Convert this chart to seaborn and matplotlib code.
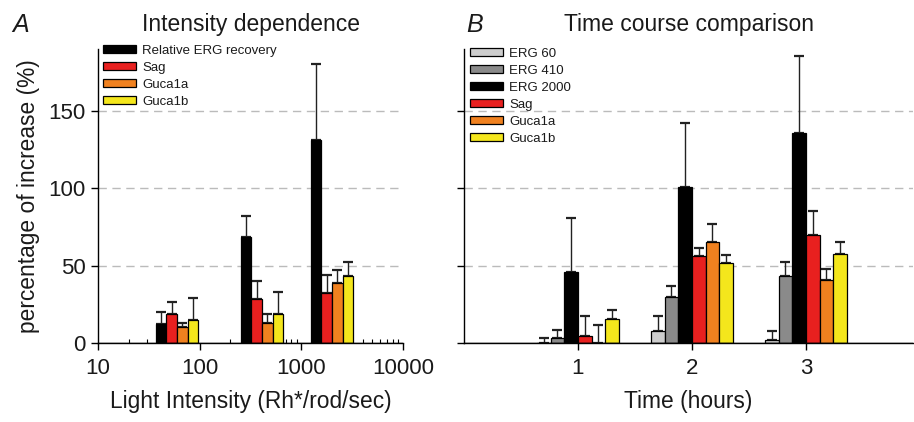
import numpy as np
import pandas as pd
import matplotlib
matplotlib.use("Agg")
import matplotlib.pyplot as plt
from matplotlib.patches import Patch
from matplotlib.ticker import LogLocator, NullFormatter, FixedLocator
import seaborn as sns

# ---- data: panel A (intensity dependence) ----
intensities = [60, 410, 2000]
series_a = ["Relative ERG recovery", "Sag", "Guca1a", "Guca1b"]
vals_a = {
    "Relative ERG recovery": [12, 68.5, 131],
    "Sag": [19, 28.5, 32.5],
    "Guca1a": [10.5, 13, 39],
    "Guca1b": [15, 18.5, 43],
}
errs_a = {
    "Relative ERG recovery": [8, 13.5, 49],
    "Sag": [7.5, 11.5, 11.5],
    "Guca1a": [2.5, 6, 8.5],
    "Guca1b": [14, 14.5, 9.5],
}

# ---- data: panel B (time course) ----
hours = ["1", "2", "3"]
series_b = ["ERG 60", "ERG 410", "ERG 2000", "Sag", "Guca1a", "Guca1b"]
vals_b = {
    "ERG 60": [-1.5, 7.5, 2.2],
    "ERG 410": [3.2, 29.7, 43],
    "ERG 2000": [46, 101, 136],
    "Sag": [4.3, 56.5, 69.5],
    "Guca1a": [0, 65.5, 40.5],
    "Guca1b": [15.5, 51.5, 57.8],
}
errs_b = {
    "ERG 60": [3, 10, 5.3],
    "ERG 410": [5, 7, 9.3],
    "ERG 2000": [35, 41.5, 49.5],
    "Sag": [13, 5, 16],
    "Guca1a": [11.4, 11.5, 7.3],
    "Guca1b": [6, 5.5, 7.5],
}

colors = {
    "Relative ERG recovery": "#000000",
    "ERG 60": "#cdcdcd",
    "ERG 410": "#8a8a8a",
    "ERG 2000": "#000000",
    "Sag": "#e8201f",
    "Guca1a": "#f0811f",
    "Guca1b": "#f4e61c",
}

df_a = pd.DataFrame([(x, s, vals_a[s][i], errs_a[s][i])
                     for s in series_a for i, x in enumerate(intensities)],
                    columns=["intensity", "series", "value", "err"])
df_b = pd.DataFrame([(h, s, vals_b[s][i], errs_b[s][i])
                     for s in series_b for i, h in enumerate(hours)],
                    columns=["hour", "series", "value", "err"])

sns.set_theme(style="ticks")
plt.rcParams["font.family"] = ["Liberation Sans", "DejaVu Sans"]
plt.rcParams["text.color"] = "#1a1a1a"
plt.rcParams["axes.labelcolor"] = "#1a1a1a"
plt.rcParams["xtick.labelcolor"] = "#1a1a1a"
plt.rcParams["ytick.labelcolor"] = "#1a1a1a"

fig = plt.figure(figsize=(9.14, 4.22), dpi=100)
axA = fig.add_axes([98 / 914, 1 - 343 / 422, 305 / 914, 294 / 422])
axB = fig.add_axes([464 / 914, 1 - 343 / 422, 449 / 914, 294 / 422])

err_kw = dict(fmt="none", ecolor="#222222", elinewidth=1.0, capsize=3.5, capthick=1.6, zorder=1)


def add_errors(ax, containers, series, errs, log=False):
    for s, cont in zip(series, containers):
        xs, ys = [], []
        for bar in cont:
            x0, w = bar.get_x(), bar.get_width()
            xs.append(np.sqrt(x0 * (x0 + w)) if log else x0 + w / 2)
            ys.append(max(bar.get_height(), 0))
        e = errs[s]
        ax.errorbar(xs, ys, yerr=[np.zeros(len(e)), e], **err_kw)


# ---- panel A ----
sns.barplot(data=df_a, x="intensity", y="value", hue="series", hue_order=series_a,
            palette=colors, saturation=1, native_scale=True, log_scale=(10, False),
            width=0.61, errorbar=None, edgecolor="black", linewidth=0.9,
            legend=False, ax=axA, zorder=2)
add_errors(axA, axA.containers, series_a, errs_a, log=True)
axA.set_xscale("log")
axA.set_xlim(10, 10000)
axA.xaxis.set_major_locator(FixedLocator([10, 100, 1000, 10000]))
axA.set_xticklabels(["10", "100", "1000", "10000"])
axA.xaxis.set_minor_locator(LogLocator(base=10, subs=np.arange(2, 10)))
axA.xaxis.set_minor_formatter(NullFormatter())
axA.set_xlabel("Light Intensity (Rh*/rod/sec)", fontsize=16.4, labelpad=8)
axA.set_ylabel("percentage of increase (%)", fontsize=16.4, labelpad=6)
axA.set_title("Intensity dependence", fontsize=16.5, pad=13)

# ---- panel B ----
sns.barplot(data=df_b, x="hour", y="value", hue="series", hue_order=series_b,
            palette=colors, saturation=1, width=0.72, errorbar=None,
            edgecolor="black", linewidth=0.9, legend=False, ax=axB, zorder=2)
add_errors(axB, axB.containers, series_b, errs_b)
axB.set_xlim(-1, 2.94)
axB.set_xlabel("Time (hours)", fontsize=16.4, labelpad=8)
axB.set_ylabel("")
axB.set_title("Time course comparison", fontsize=16.5, pad=13)

for ax in (axA, axB):
    ax.set_ylim(0, 190)
    ax.set_yticks([0, 50, 100, 150])
    ax.set_axisbelow(True)
    for y in (50, 100, 150):
        ax.axhline(y, color="#bbbbbb", lw=1.0, ls=(0, (6, 4)), zorder=0)
    ax.axhline(0, color="black", lw=1.0, zorder=3)
    sns.despine(ax=ax)
    for sp in ("left", "bottom"):
        ax.spines[sp].set_linewidth(1.0)
        ax.spines[sp].set_color("black")
    ax.tick_params(axis="both", which="major", direction="out", length=5,
                   width=1.0, color="black", labelsize=16, pad=6)
    ax.tick_params(axis="x", which="minor", direction="in", length=3,
                   width=0.8, color="black")

axA.tick_params(axis="y", which="major", pad=4)
axB.tick_params(axis="y", labelleft=False)

# legends
leg_kw = dict(loc="upper left", frameon=False, fontsize=9.5, handlelength=2.5,
              handleheight=0.6, labelspacing=0.38, handletextpad=0.5,
              borderpad=0, borderaxespad=0)
handles_a = [Patch(facecolor=colors[s], edgecolor="black", lw=0.9, label=s) for s in series_a]
axA.legend(handles=handles_a, bbox_to_anchor=(0.016, 1.015), **leg_kw)
handles_b = [Patch(facecolor=colors[s], edgecolor="black", lw=0.9, label=s) for s in series_b]
axB.legend(handles=handles_b, bbox_to_anchor=(0.013, 1.005), **leg_kw)

fig.text(12 / 914, 1 - 32 / 422, "A", fontsize=18, style="italic")
fig.text(466 / 914, 1 - 32 / 422, "B", fontsize=18, style="italic")

fig.savefig("out.png", dpi=100)
